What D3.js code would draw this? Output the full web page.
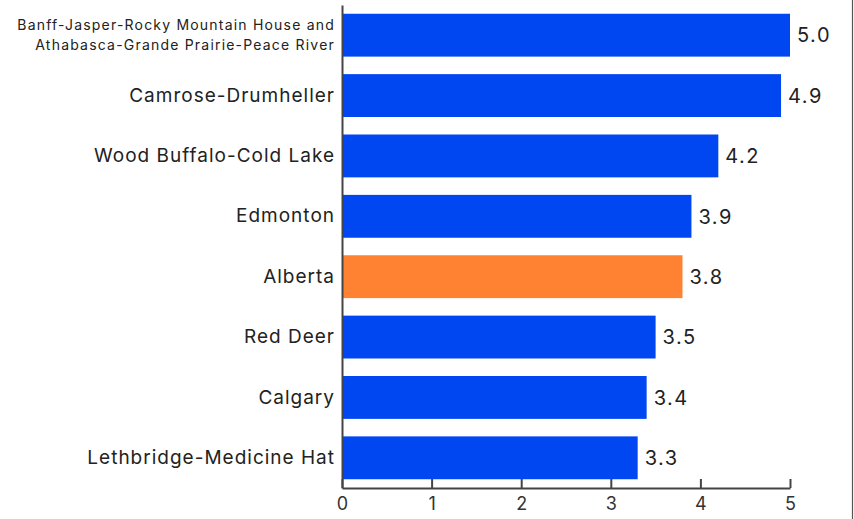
<html lang="en">
<head>
<meta charset="UTF-8">
<title>Alberta regions</title>
<script src="https://cdn.jsdelivr.net/npm/d3@7"></script>
<style>
  body { margin: 0; background: #fff; }
  svg { display: block; font-family: Inter, "Noto Sans", sans-serif; }
</style>
</head>
<body>
<svg id="chart"></svg>
<script>
// data
var regions = [
  "Banff-Jasper-Rocky Mountain House and|Athabasca-Grande Prairie-Peace River",
  "Camrose-Drumheller",
  "Wood Buffalo-Cold Lake",
  "Edmonton",
  "Alberta",
  "Red Deer",
  "Calgary",
  "Lethbridge-Medicine Hat"
];
var values = [5.0, 4.9, 4.2, 3.9, 3.8, 3.5, 3.4, 3.3];
var ticks = [0, 1, 2, 3, 4, 5];
var highlight = "Alberta";

var width = 854, height = 519;
var margin = { top: 5, left: 342, right: 64, bottom: 31 };

var svg = d3.select("#chart").attr("width", width).attr("height", height);

var xScale = d3.scaleLinear()
  .domain([0, 5])
  .range([margin.left, width - margin.right]);

var yScale = d3.scaleBand()
  .domain(regions)
  .range([margin.top, height - margin.bottom])
  .paddingInner(0.29)
  .paddingOuter(0.145);

// right border line
svg.append("line")
  .attr("x1", 852.5).attr("x2", 852.5)
  .attr("y1", 0).attr("y2", height)
  .attr("stroke", "#555").attr("stroke-width", 1.2);

var data = regions.map(function(r, i) { return { name: r, value: values[i] }; });

svg.append("g")
  .selectAll("rect")
  .data(data)
  .enter()
  .append("rect")
  .attr("x", xScale(0))
  .attr("y", function(d) { return yScale(d.name); })
  .attr("width", function(d) { return xScale(d.value) - xScale(0); })
  .attr("height", yScale.bandwidth())
  .attr("fill", function(d) { return d.name == highlight ? "#fe8231" : "#0047f2"; });

// value labels
svg.append("g")
  .selectAll("text")
  .data(data)
  .enter()
  .append("text")
  .attr("x", function(d) { return xScale(d.value) + 7; })
  .attr("y", function(d) { return yScale(d.name) + yScale.bandwidth() / 2; })
  .attr("dy", "0.36em")
  .attr("font-size", 20)
  .attr("letter-spacing", 1.5)
  .attr("fill", "#222")
  .text(function(d) { return d.value.toFixed(1); });

// x axis
var xAxis = d3.axisBottom(xScale)
  .tickValues(ticks)
  .tickFormat(d3.format("d"))
  .tickSizeInner(-9)
  .tickSizeOuter(0)
  .tickPadding(9);

var gx = svg.append("g")
  .attr("transform", "translate(0," + (height - margin.bottom) + ")")
  .call(xAxis);
gx.select(".domain").attr("stroke", "#444").attr("stroke-width", 2);
gx.selectAll(".tick line").attr("stroke", "#444").attr("stroke-width", 2);
gx.selectAll(".tick text")
  .attr("font-family", "Inter, sans-serif")
  .attr("font-size", 18)
  .attr("fill", "#333");

// y axis
var yAxis = d3.axisLeft(yScale).tickSize(0).tickPadding(7);
var gy = svg.append("g")
  .attr("transform", "translate(" + margin.left + ",0)")
  .call(yAxis);
gy.select(".domain").attr("stroke", "#444").attr("stroke-width", 2);
gy.selectAll(".tick text")
  .attr("font-family", "Inter, sans-serif")
  .attr("font-size", 19)
  .attr("letter-spacing", 1)
  .attr("fill", "#222")
  .each(function(d) {
    var parts = d.split("|");
    if (parts.length > 1) {
      var t = d3.select(this).text(null)
        .attr("font-size", 14)
        .attr("letter-spacing", 1.2)
        .attr("dy", null);
      parts.forEach(function(p, i) {
        t.append("tspan")
          .attr("x", -7)
          .attr("dy", i == 0 ? "-0.4em" : "1.45em")
          .text(p);
      });
    }
  });
</script>
</body>
</html>
